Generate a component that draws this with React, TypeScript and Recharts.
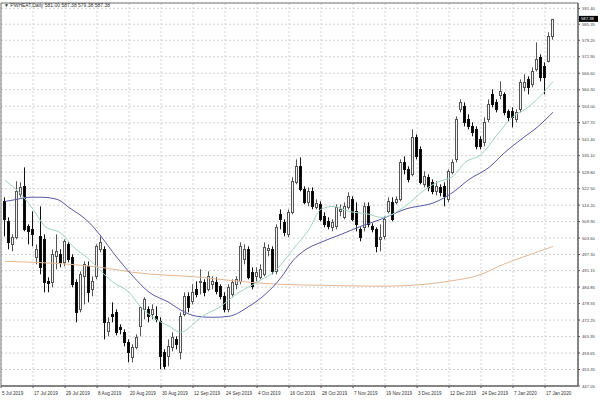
import { Bar, CartesianGrid, ComposedChart, Line, ReferenceArea, ReferenceLine, XAxis, YAxis } from 'recharts';

// daily OHLC (bar 0 = 5 Jul 2019)
const opens = [
	517.64, 509.99, 501.2, 503.88, 520.31, 523.37, 508.08, 506.93, 496.23, 504.26,
	503.11, 487.06, 486.68, 496.61, 497.38, 494.32, 501.2, 496.23, 486.68, 476.36,
	488.97, 492.79, 484.0, 488.97, 499.29, 499.29, 467.95, 474.45, 475.21, 469.48,
	467.57, 463.74, 458.01, 461.83, 469.86, 476.36, 476.36, 474.45, 473.68, 471.77,
	459.92, 458.39, 461.83, 464.89, 459.92, 474.45, 481.33, 479.42, 484.0, 486.68,
	486.68, 484.0, 485.91, 486.68, 485.15, 481.33, 476.36, 482.09, 485.91, 487.06,
	495.47, 499.29, 490.5, 488.97, 488.59, 489.74, 498.91, 499.29, 490.88, 512.67,
	509.61, 505.02, 513.43, 524.9, 531.01, 522.22, 517.25, 521.46, 515.34, 516.49,
	511.9, 509.99, 507.7, 508.08, 513.81, 511.52, 515.34, 518.4, 513.81, 506.93,
	507.7, 515.73, 508.08, 506.93, 503.11, 504.26, 513.81, 517.25, 517.25, 518.4,
	532.54, 529.87, 527.96, 542.1, 537.51, 524.13, 526.81, 524.9, 521.46, 522.99,
	523.37, 518.4, 528.72, 533.69, 552.8, 553.94, 548.98, 546.3, 545.15, 541.33,
	540.19, 548.98, 558.53, 555.47, 558.15, 558.53, 552.03, 552.03, 548.98, 552.8,
	561.21, 564.26, 562.35, 568.09, 572.67, 569.23, 571.15, 581.0,
];
const highs = [
	519.16, 511.52, 505.02, 525.28, 524.9, 530.63, 508.85, 513.81, 501.2, 515.73,
	505.02, 488.59, 499.29, 505.02, 499.29, 503.11, 501.97, 497.38, 487.83, 490.88,
	494.7, 494.7, 488.97, 501.2, 504.26, 500.44, 473.3, 479.03, 476.36, 470.63,
	468.71, 464.89, 462.98, 466.8, 477.5, 480.94, 477.5, 478.27, 477.5, 473.3,
	461.07, 464.89, 467.57, 466.04, 475.21, 482.85, 482.85, 485.91, 487.06, 491.65,
	487.83, 490.88, 488.97, 488.59, 485.91, 482.85, 485.91, 487.83, 488.97, 501.97,
	501.2, 500.44, 492.41, 492.41, 493.56, 501.97, 501.2, 500.44, 508.85, 514.58,
	510.76, 514.58, 526.81, 533.69, 534.45, 523.37, 522.99, 522.99, 518.4, 517.64,
	513.43, 511.52, 510.76, 516.49, 516.49, 517.25, 521.08, 519.55, 517.25, 507.7,
	517.25, 517.25, 509.23, 507.7, 508.85, 511.9, 519.16, 519.16, 519.55, 533.69,
	534.84, 531.01, 545.15, 543.24, 538.66, 529.1, 527.96, 526.04, 525.28, 524.13,
	524.9, 529.87, 533.69, 550.12, 556.62, 555.47, 550.89, 547.83, 546.3, 542.48,
	549.74, 556.62, 560.44, 556.62, 563.5, 559.3, 552.8, 553.56, 552.8, 564.26,
	566.18, 565.41, 568.85, 578.41, 573.82, 570.76, 582.23, 587.38,
];
const lows = [
	504.26, 499.29, 498.53, 503.11, 519.16, 506.17, 501.2, 500.44, 493.56, 489.74,
	482.85, 482.85, 484.77, 491.65, 492.41, 492.79, 494.32, 484.77, 471.39, 475.21,
	478.27, 479.03, 481.33, 487.83, 498.14, 464.89, 466.04, 471.39, 466.42, 466.8,
	462.22, 456.1, 456.1, 461.07, 466.04, 472.54, 471.39, 472.54, 471.39, 453.43,
	453.43, 454.57, 460.31, 461.07, 457.25, 473.68, 475.21, 478.27, 480.94, 482.09,
	481.33, 483.24, 484.0, 482.09, 480.18, 475.21, 475.21, 480.94, 484.0, 485.91,
	493.56, 487.83, 484.0, 487.06, 487.83, 488.97, 496.61, 489.74, 489.74, 506.93,
	504.26, 503.88, 512.67, 524.13, 521.46, 516.49, 515.73, 514.58, 514.58, 509.99,
	507.7, 506.93, 506.17, 506.93, 511.9, 510.76, 514.58, 509.99, 506.17, 502.35,
	506.17, 507.7, 505.79, 498.14, 498.53, 503.11, 513.05, 509.99, 516.49, 517.64,
	527.96, 524.9, 527.19, 533.69, 524.13, 522.99, 521.46, 520.31, 519.93, 519.55,
	515.73, 517.25, 527.96, 532.54, 551.65, 546.3, 545.15, 542.48, 537.51, 537.51,
	538.66, 547.83, 553.56, 551.65, 556.62, 550.5, 548.21, 545.92, 547.83, 551.65,
	559.68, 558.53, 561.21, 567.32, 563.5, 558.53, 570.76, 579.38,
];
const closes = [
	510.76, 501.97, 503.88, 521.46, 522.99, 506.93, 506.17, 505.02, 499.29, 492.41,
	486.68, 486.3, 497.38, 498.53, 494.32, 502.35, 495.47, 485.91, 475.21, 489.74,
	493.56, 482.85, 487.06, 500.44, 501.97, 471.39, 471.39, 473.68, 467.57, 468.71,
	463.74, 459.92, 461.83, 465.66, 477.12, 480.18, 473.68, 476.36, 472.54, 458.39,
	454.57, 462.22, 465.66, 462.98, 473.68, 481.33, 477.12, 482.85, 482.09, 487.06,
	482.85, 488.97, 487.06, 483.24, 481.33, 476.36, 484.77, 486.68, 487.83, 500.44,
	499.29, 488.59, 485.15, 490.5, 491.65, 500.05, 499.67, 490.88, 507.7, 510.76,
	505.79, 513.43, 525.28, 531.01, 522.22, 517.25, 521.46, 515.73, 516.87, 510.76,
	508.85, 508.08, 509.61, 515.34, 514.58, 515.73, 519.55, 510.76, 508.85, 503.88,
	515.73, 508.85, 506.93, 500.44, 503.88, 510.76, 517.64, 510.76, 518.4, 532.54,
	529.87, 526.04, 542.1, 534.84, 524.9, 527.19, 522.99, 521.46, 523.37, 521.08,
	519.55, 529.1, 532.54, 548.98, 555.47, 547.83, 546.3, 544.01, 538.66, 538.66,
	547.83, 554.71, 554.71, 552.8, 559.68, 551.65, 549.74, 549.74, 551.65, 563.12,
	563.12, 561.21, 567.32, 571.91, 565.03, 565.03, 580.7, 587.38,
];

// moving averages, read at a few bars each
const fastIdx = [0, 4, 7, 10, 14, 17, 21, 24, 27, 31, 34, 37, 41, 44, 47, 49, 54, 57, 63, 68, 72, 76, 79, 82, 86, 91, 94, 100, 105, 108, 112, 115, 119, 123, 127, 130, 133, 137];
const fastVal = [525.7, 520.3, 514.6, 508.1, 505.4, 500.4, 495.5, 490.9, 486.7, 482.9, 477.1, 473.3, 469.9, 467.6, 470.6, 473.3, 477.5, 481.3, 486.7, 491.7, 499.3, 506.9, 514.6, 515.7, 513.8, 512.7, 511.5, 515.7, 522.2, 524.9, 527.2, 532.5, 535.5, 543.0, 550.0, 552.8, 556.6, 563.5];
const midIdx = [0, 3, 6, 9, 13, 16, 21, 24, 27, 32, 36, 41, 44, 48, 52, 56, 61, 65, 69, 72, 75, 79, 84, 89, 94, 100, 108, 112, 116, 121, 125, 129, 133, 137];
const midVal = [517.6, 518.4, 519.2, 519.2, 518.4, 515.3, 509.6, 504.3, 498.1, 489.0, 482.9, 479.0, 476.0, 473.7, 473.3, 473.7, 477.5, 482.0, 488.5, 495.0, 499.0, 502.0, 505.0, 508.1, 510.8, 514.6, 517.6, 521.1, 526.0, 530.6, 536.4, 541.3, 545.9, 551.7];
const slowIdx = [0, 24, 32, 49, 61, 69, 81, 94, 101, 111, 119, 124, 130, 137];
const slowVal = [494.7, 492.4, 490.5, 488.6, 486.7, 485.9, 485.5, 485.2, 485.5, 487.1, 489.7, 493.2, 496.6, 500.4];

const dateIdx = [-1, 7, 15, 23, 31, 39, 47, 55, 63, 71, 79, 87, 95, 103, 111, 119, 127, 135];
const dateLabels = [
	'5 Jul 2019', '17 Jul 2019', '29 Jul 2019', '8 Aug 2019', '20 Aug 2019', '30 Aug 2019',
	'12 Sep 2019', '24 Sep 2019', '4 Oct 2019', '16 Oct 2019', '28 Oct 2019', '7 Nov 2019',
	'19 Nov 2019', '3 Dec 2019', '12 Dec 2019', '24 Dec 2019', '7 Jan 2020', '17 Jan 2020',
];
const priceTicks = [
	447.05, 453.35, 459.65, 465.95, 472.25, 478.55, 484.85, 491.15, 497.3, 503.6, 509.9, 516.2,
	522.5, 528.8, 535.1, 541.4, 547.7, 554.0, 560.3, 566.6, 572.9, 579.2, 585.35, 591.4,
];

const title = '▼ PWHEAT,Daily 581.00 587.38 579.38 587.38';
const lastPrice = 587.38;

const pick = (idx: number[], vals: number[], i: number) => {
	const k = idx.indexOf(i);
	return k >= 0 ? vals[k] : null;
};

const data = opens.map((o, i) => ({
	i,
	open: o,
	high: highs[i],
	low: lows[i],
	close: closes[i],
	range: [lows[i], highs[i]],
	fast: pick(fastIdx, fastVal, i),
	mid: pick(midIdx, midVal, i),
	slow: pick(slowIdx, slowVal, i),
}));

const FONT = 'Arial, "Liberation Sans", sans-serif';
const X_DOMAIN: [number, number] = [-1, 143.25];
const Y_DOMAIN: [number, number] = [447.05, 593.45];

const Candle = (props: any) => {
	const { x, y, width, height, payload } = props;
	if (!payload) return null;
	const { open, high, low, close } = payload;
	const h = Math.abs(height);
	const top = height < 0 ? y + height : y;
	const span = high - low;
	const toY = (v: number) => (span === 0 ? top : top + ((high - v) / span) * h);
	const cx = Math.floor(x + width / 2) + 0.5;
	const yo = toY(open);
	const yc = toY(close);
	const bTop = Math.round(Math.min(yo, yc)) + 0.5;
	const bH = Math.max(Math.round(Math.abs(yo - yc)), 1);
	const bull = close >= open;
	const edge = bull ? '#555' : '#111';
	return (
		<g>
			<line x1={cx} x2={cx} y1={toY(high)} y2={toY(low)} stroke={edge} strokeWidth={1} />
			<rect
				x={cx - 1}
				y={bTop}
				width={2}
				height={bH}
				fill={bull ? '#f4f4f4' : '#000000'}
				stroke={edge}
				strokeWidth={1}
			/>
		</g>
	);
};

const DateTick = ({ x, y, payload }: any) => {
	const k = dateIdx.indexOf(payload.value);
	return (
		<text x={x + 1} y={y + 4.5} fontSize={4.6} fill="#333" fontFamily={FONT} textAnchor="start">
			{k >= 0 ? dateLabels[k] : ''}
		</text>
	);
};

const PriceTick = ({ x, y, payload }: any) => (
	<text x={x} y={y + 1.6} fontSize={4.2} fill="#444" fontFamily={FONT} textAnchor="start">
		{Number(payload.value).toFixed(2)}
	</text>
);

const PriceTag = ({ viewBox }: any) => {
	if (!viewBox) return null;
	const px = viewBox.x + viewBox.width + 1;
	return (
		<g>
			<rect x={px} y={viewBox.y - 3} width={19} height={6} fill="#000" />
			<text x={px + 2} y={viewBox.y + 1.6} fontSize={4.2} fill="#fff" fontFamily={FONT}>
				{lastPrice.toFixed(2)}
			</text>
		</g>
	);
};

export default function App() {
	return (
		<div style={{ position: 'absolute', left: 0, top: 0, width: 600, height: 400, background: '#fff' }}>
			<ComposedChart width={600} height={400} data={data} margin={{ top: 3, right: 0, bottom: 0, left: 1 }}>
				<CartesianGrid stroke="#d2d2d2" strokeDasharray="2 2" />
				<XAxis
					dataKey="i"
					type="number"
					domain={X_DOMAIN}
					allowDataOverflow
					ticks={dateIdx}
					interval={0}
					height={14}
					tickSize={2}
					tickLine={{ stroke: '#555' }}
					axisLine={{ stroke: '#555' }}
					tick={<DateTick />}
				/>
				<YAxis
					orientation="right"
					type="number"
					domain={Y_DOMAIN}
					allowDataOverflow
					ticks={priceTicks}
					interval={0}
					width={22}
					tickSize={2}
					tickMargin={2}
					tickLine={{ stroke: '#555' }}
					axisLine={{ stroke: '#555' }}
					tick={<PriceTick />}
				/>
				<ReferenceArea x1={X_DOMAIN[0]} x2={X_DOMAIN[1]} y1={Y_DOMAIN[0]} y2={Y_DOMAIN[1]} fill="none" stroke="#777" />
				<Line dataKey="slow" type="monotone" stroke="#e4b894" strokeWidth={1} dot={false} connectNulls isAnimationActive={false} />
				<Line dataKey="mid" type="monotone" stroke="#5a5aa8" strokeWidth={1} dot={false} connectNulls isAnimationActive={false} />
				<Line dataKey="fast" type="monotone" stroke="#9fd4c6" strokeWidth={1} dot={false} connectNulls isAnimationActive={false} />
				<Bar dataKey="range" barSize={3} shape={<Candle />} isAnimationActive={false} />
				<ReferenceLine y={lastPrice} stroke="none" label={<PriceTag />} />
			</ComposedChart>
			<div
				style={{
					position: 'absolute',
					left: 4,
					top: 2,
					fontSize: 5,
					lineHeight: '6px',
					fontFamily: FONT,
					color: '#333',
					whiteSpace: 'nowrap',
				}}
			>
				{title}
			</div>
		</div>
	);
}
